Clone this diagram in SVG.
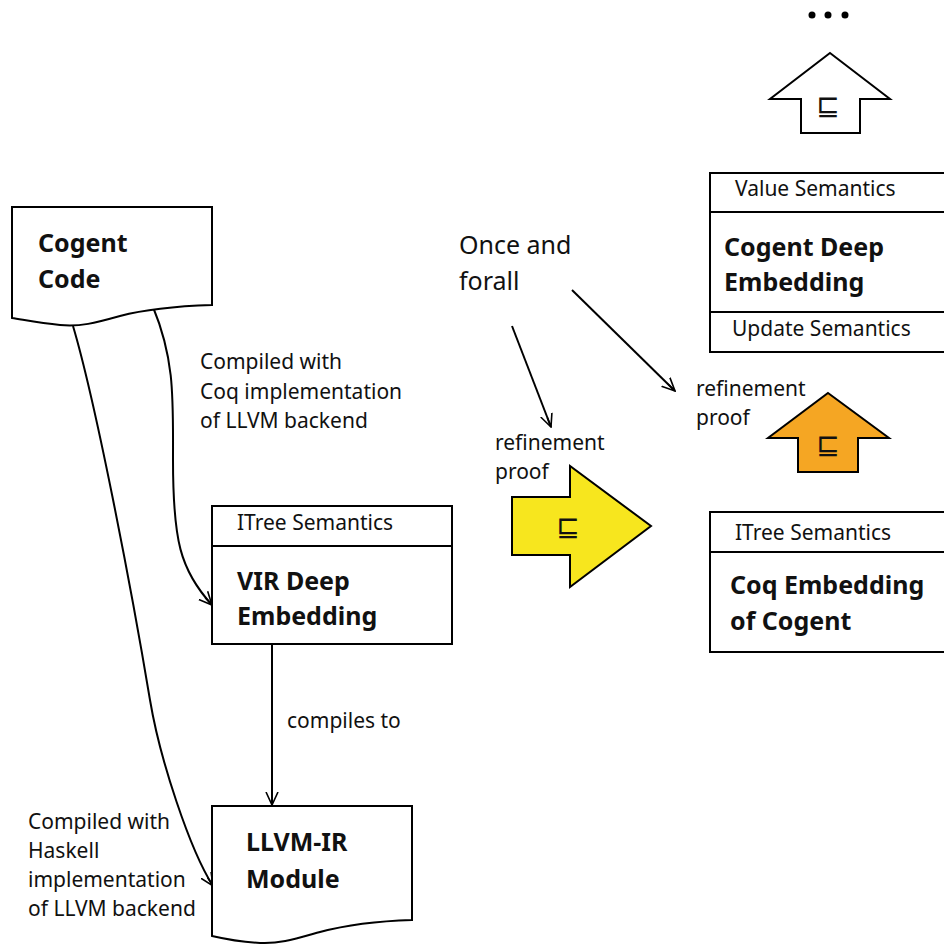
<svg xmlns="http://www.w3.org/2000/svg" width="944" height="945" viewBox="0 0 944 945">
<defs>
<style>
.s{fill:none;stroke:#000;stroke-width:2}
.b{fill:#fff;stroke:#000;stroke-width:2}
.t{font-family:"Noto Sans","Open Sans",sans-serif;font-size:21px;fill:#111}
.tb{font-family:"Noto Sans","Open Sans",sans-serif;font-size:25px;font-weight:bold;fill:#111}
.tl{font-family:"Noto Sans","Open Sans",sans-serif;font-size:25px;fill:#111}
.sym{font-family:"DejaVu Sans",sans-serif;font-size:28px;fill:#111;text-anchor:middle}
</style>
<marker id="ah" viewBox="0 0 14 14" refX="13" refY="7" markerWidth="14" markerHeight="14" markerUnits="userSpaceOnUse" orient="auto">
<path d="M0,1 L13,7 L0,13 M13,7 L3,7" fill="none" stroke="#000" stroke-width="1.6"/>
</marker>
</defs>
<rect width="944" height="945" fill="#fff"/>

<g id="connectors">
<path class="s" d="M73,326 C95,400 130,580 150,700 C160,760 190,850 213,886" marker-end="url(#ah)"/>
<path class="s" d="M153,307 C175,360 173,400 173,460 C173,540 180,570 212,605" marker-end="url(#ah)"/>
<path class="s" d="M272,644 L272,805" marker-end="url(#ah)"/>
<path class="s" d="M512,326 L551,427" marker-end="url(#ah)"/>
<path class="s" d="M572,290 L675,391" marker-end="url(#ah)"/>
</g>

<g id="cogent-code">
<path class="b" d="M12,207 L212,207 L212,305 C180,306 150,308 120,316 C95,323 80,327 60,325 C40,323 25,320 12,318 Z"/>
<text class="tb" x="38" y="252">Cogent</text>
<text class="tb" x="38" y="288">Code</text>
</g>

<g id="label-coq-llvm">
<text class="t" x="200" y="369">Compiled with</text>
<text class="t" x="200" y="399">Coq implementation</text>
<text class="t" x="200" y="428">of LLVM backend</text>
</g>

<g id="vir">
<rect class="b" x="212" y="506" width="240" height="138"/>
<line class="s" x1="212" y1="546" x2="452" y2="546"/>
<text class="t" x="237" y="530">ITree Semantics</text>
<text class="tb" x="237" y="590">VIR Deep</text>
<text class="tb" x="237" y="625">Embedding</text>
</g>

<g id="label-compiles">
<text class="t" x="287" y="728">compiles to</text>
</g>

<g id="llvm-ir">
<path class="b" d="M212,806 L412,806 L412,920 C380,921 350,924 320,932 C295,939 280,944 260,943 C240,942 225,939 212,936 Z"/>
<text class="tb" x="246" y="851">LLVM-IR</text>
<text class="tb" x="246" y="888">Module</text>
</g>

<g id="label-haskell">
<text class="t" x="28" y="829">Compiled with</text>
<text class="t" x="28" y="858">Haskell</text>
<text class="t" x="28" y="887">implementation</text>
<text class="t" x="28" y="916">of LLVM backend</text>
</g>

<g id="once-forall">
<text class="tl" x="459" y="254">Once and</text>
<text class="tl" x="459" y="290">forall</text>
</g>

<g id="label-refinement-1">
<text class="t" x="495" y="450">refinement</text>
<text class="t" x="495" y="479">proof</text>
</g>

<g id="label-refinement-2">
<text class="t" x="696" y="396">refinement</text>
<text class="t" x="696" y="425">proof</text>
</g>

<g id="yellow-arrow">
<path d="M512,497 L570,497 L570,466 L651,526 L570,587 L570,555 L512,555 Z" fill="#f7e61e" stroke="#000" stroke-width="2"/>
<text class="sym" x="568" y="536">⊑</text>
</g>

<g id="orange-arrow">
<path d="M828,393 L889,438 L858,438 L858,472 L798,472 L798,438 L768,438 Z" fill="#f5a623" stroke="#000" stroke-width="2"/>
<text class="sym" x="828" y="454">⊑</text>
</g>

<g id="white-arrow">
<path d="M830,53 L890,99 L860,99 L860,133 L801,133 L801,99 L770,99 Z" fill="#fff" stroke="#000" stroke-width="2"/>
<text class="sym" x="828" y="115">⊑</text>
</g>

<g id="dots">
<circle cx="812" cy="15" r="3.5" fill="#000"/>
<circle cx="828" cy="15" r="3.5" fill="#000"/>
<circle cx="845" cy="15" r="3.5" fill="#000"/>
</g>

<g id="cogent-deep">
<path class="b" d="M946,173 L710,173 L710,352 L946,352"/>
<line class="s" x1="710" y1="212" x2="946" y2="212"/>
<line class="s" x1="710" y1="312" x2="946" y2="312"/>
<text class="t" x="735" y="196">Value Semantics</text>
<text class="tb" x="724" y="256">Cogent Deep</text>
<text class="tb" x="724" y="291">Embedding</text>
<text class="t" x="732" y="336">Update Semantics</text>
</g>

<g id="coq-embedding">
<path class="b" d="M946,512 L710,512 L710,652 L946,652"/>
<line class="s" x1="710" y1="552" x2="946" y2="552"/>
<text class="t" x="735" y="540">ITree Semantics</text>
<text class="tb" x="730" y="594">Coq Embedding</text>
<text class="tb" x="730" y="630">of Cogent</text>
</g>
</svg>
